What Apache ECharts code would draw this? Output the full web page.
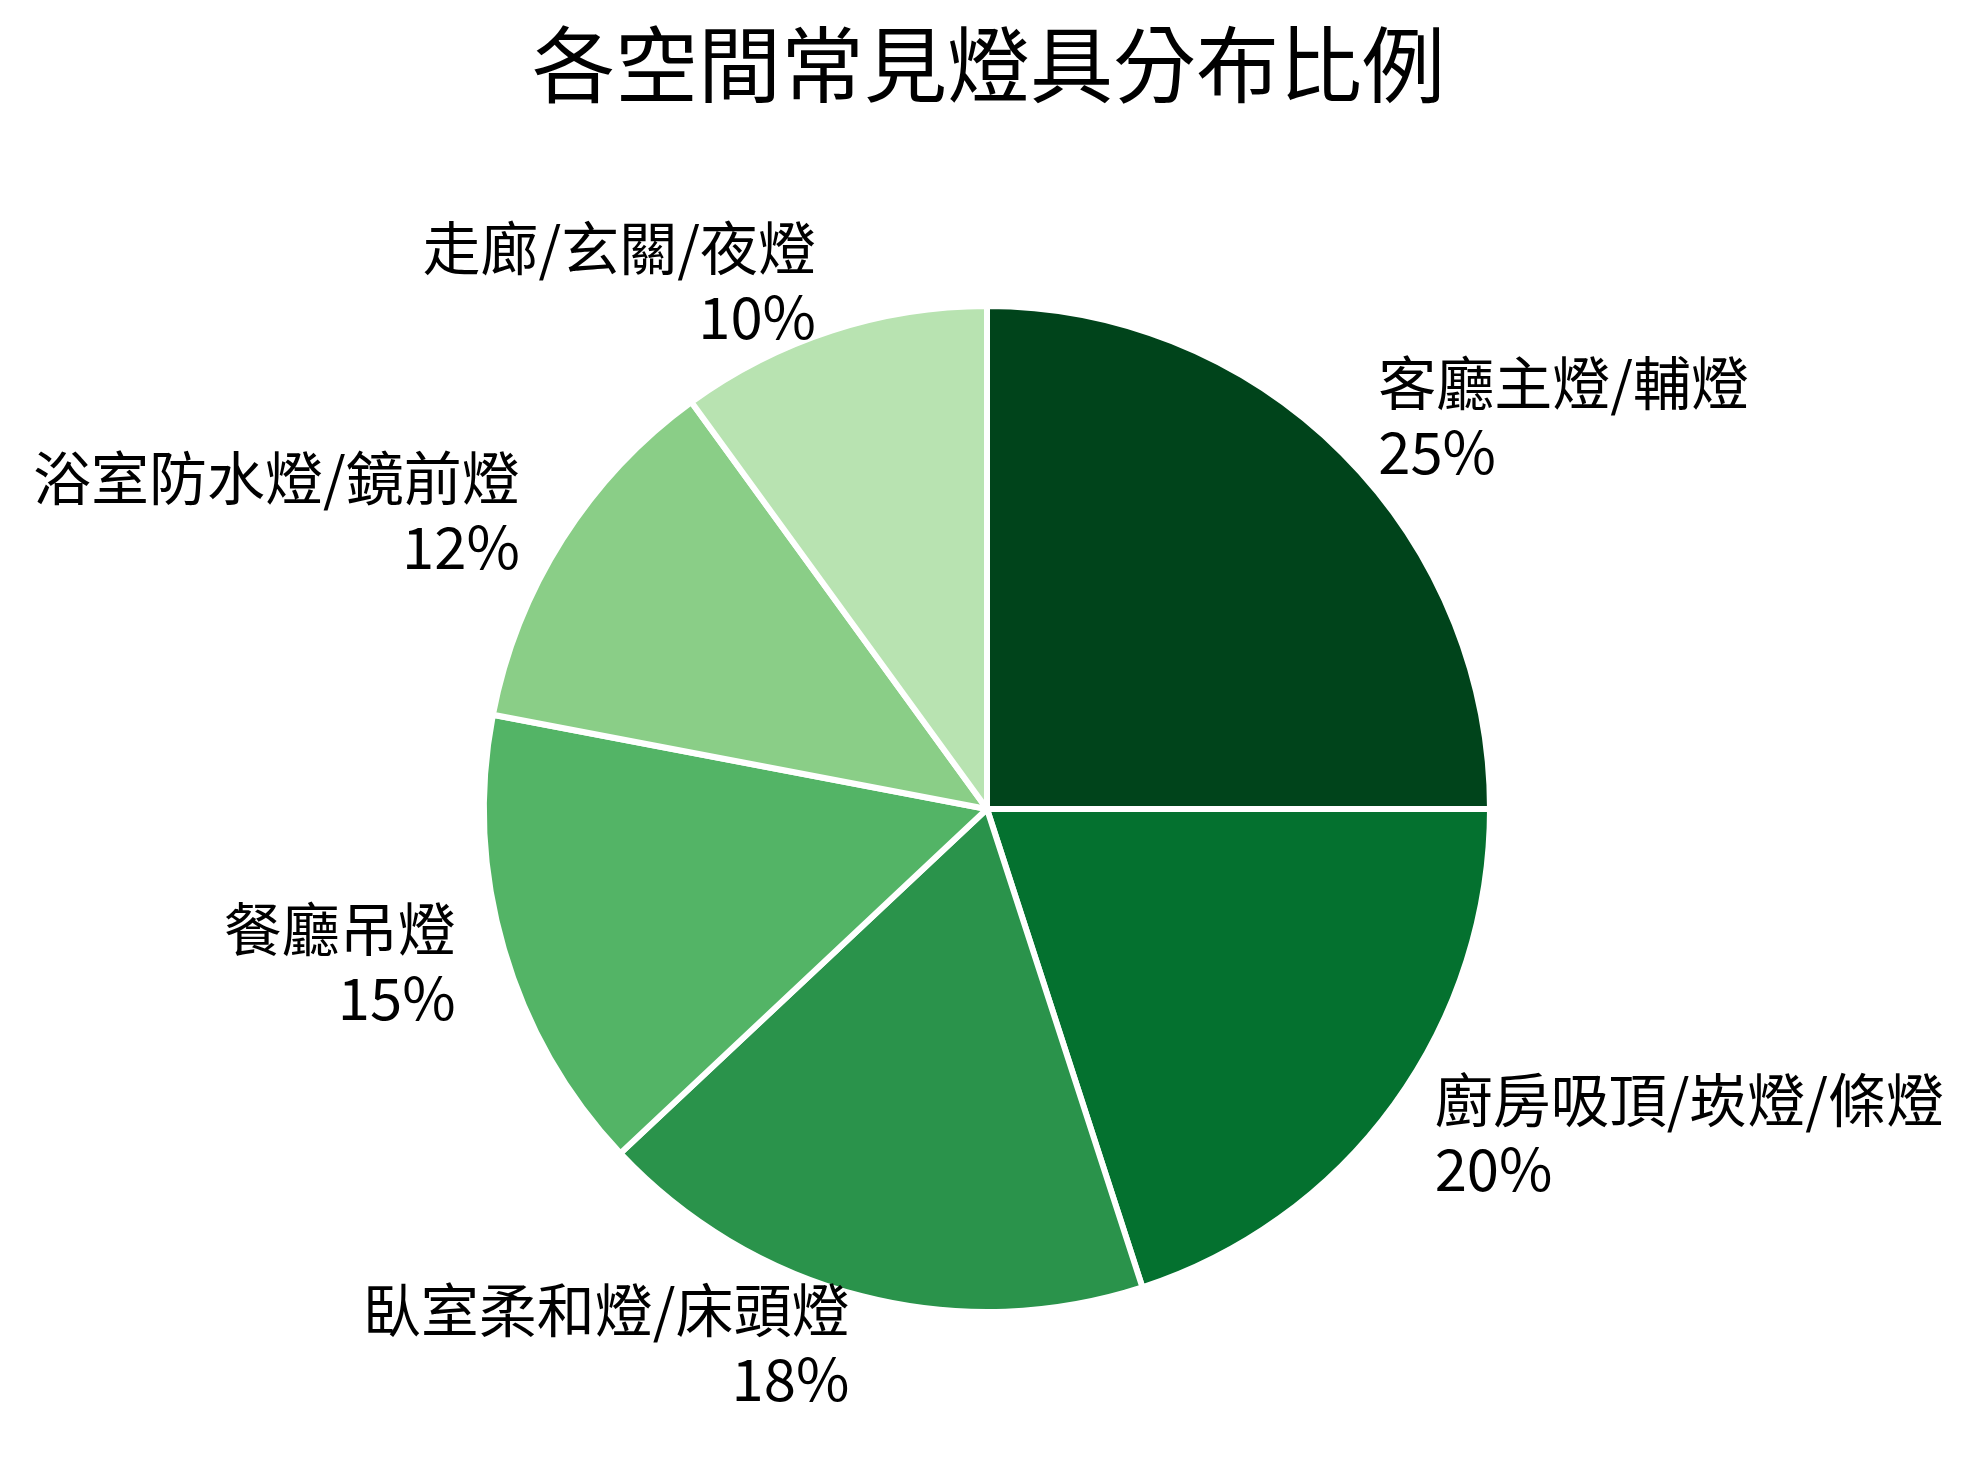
<!DOCTYPE html>
<html>
<head>
<meta charset="utf-8">
<script src="https://cdn.jsdelivr.net/npm/echarts@6/dist/echarts.min.js"></script>
<style>
html,body{margin:0;padding:0;background:#fff;}
#chart{width:1977px;height:1468px;}
</style>
</head>
<body>
<div id="chart"></div>
<script>
const titleText = '各空間常見燈具分布比例';
const categories = ['客廳主燈/輔燈', '廚房吸頂/崁燈/條燈', '臥室柔和燈/床頭燈', '餐廳吊燈', '浴室防水燈/鏡前燈', '走廊/玄關/夜燈'];
const values = [25, 20, 18, 15, 12, 10];
const colors = ['#00441b', '#04712f', '#2a934b', '#53b466', '#8ace87', '#b8e3b1'];

const FONT = '"Noto Sans CJK TC", "Noto Sans CJK SC", "Noto Sans", sans-serif';
const R = 503;

const chart = echarts.init(document.getElementById('chart'), null, {renderer: 'canvas'});
chart.setOption({
  backgroundColor: '#ffffff',
  animation: false,
  title: {
    text: titleText,
    left: 'center',
    top: 23,
    padding: 0,
    textStyle: {fontFamily: FONT, fontSize: 83, fontWeight: 'normal', color: '#000'}
  },
  series: [{
    type: 'pie',
    center: [987, 809],
    radius: R,
    startAngle: 90,
    clockwise: true,
    avoidLabelOverlap: false,
    silent: true,
    data: categories.map((c, i) => ({name: c, value: values[i], itemStyle: {color: colors[i]}})),
    itemStyle: {borderColor: '#ffffff', borderWidth: 6},
    label: {
      show: true,
      position: 'outside',
      formatter: p => p.name + '\n' + p.value + '%',
      fontFamily: FONT,
      fontSize: 58,
      lineHeight: 69,
      padding: [0, 0, 10, 0],
      color: '#000',
      distanceToLabelLine: 0
    },
    labelLine: {show: false, length: R * 0.1, length2: 0},
    emphasis: {disabled: true}
  }]
});
</script>
</body>
</html>
